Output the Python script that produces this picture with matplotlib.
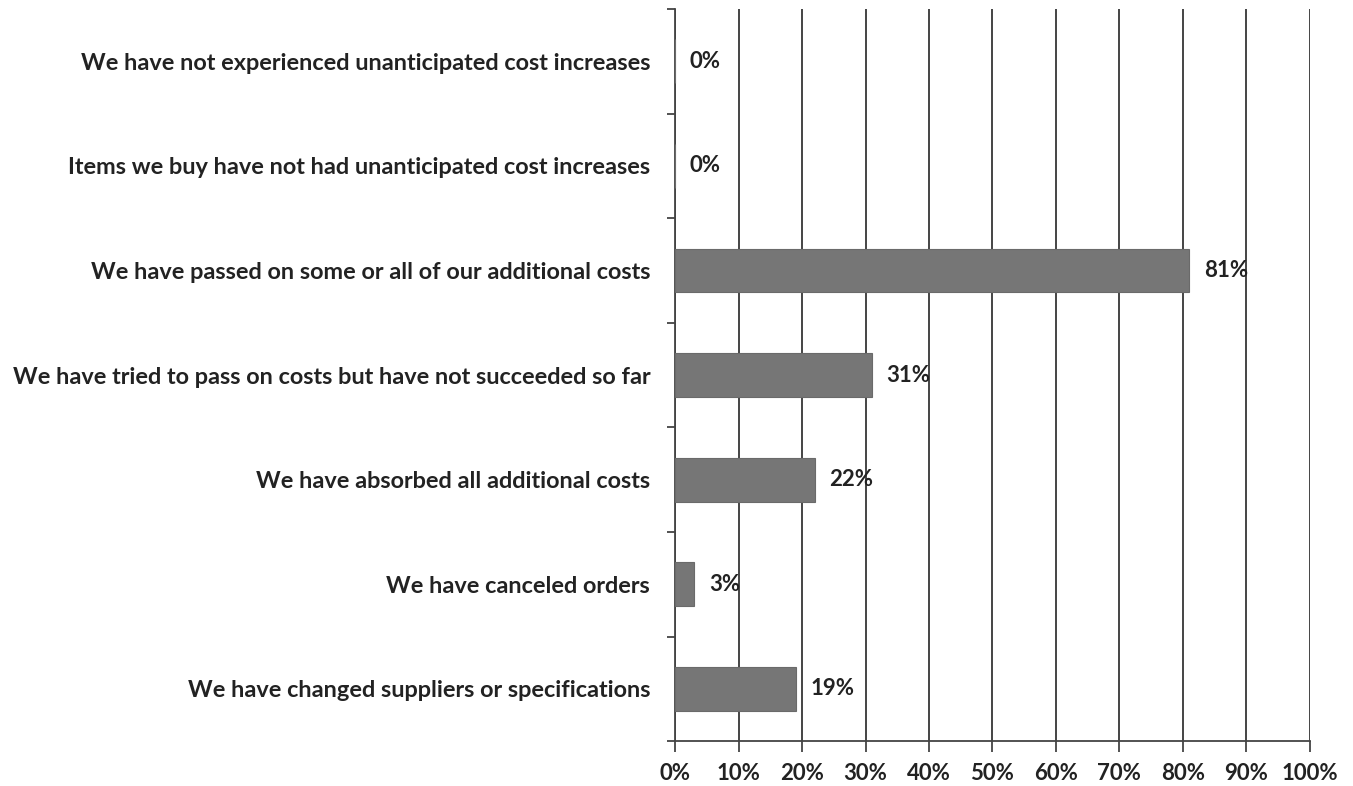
import numpy as np
import matplotlib.pyplot as plt

categories = [
    "We have not experienced unanticipated cost increases",
    "Items we buy have not had unanticipated cost increases",
    "We have passed on some or all of our additional costs",
    "We have tried to pass on costs but have not succeeded so far",
    "We have absorbed all additional costs",
    "We have canceled orders",
    "We have changed suppliers or specifications",
]
values = [0, 0, 81, 31, 22, 3, 19]
xticks = [0, 10, 20, 30, 40, 50, 60, 70, 80, 90, 100]

plt.rcParams['font.family'] = ['Lato', 'DejaVu Sans']
fs = 16

fig = plt.figure(figsize=(13.53, 7.86), dpi=100)
ax = fig.add_axes([0.499, 0.057, 0.469, 0.9315])

y = np.arange(len(categories))
ax.barh(y, values, height=0.42, color="#767676", edgecolor="#6a6a6a", linewidth=0.8, zorder=3)

for yi, v in zip(y, values):
    ax.text(v + 2.3, yi, f"{v}%", va="center", ha="left", fontsize=fs,
            fontweight="bold", color="#222222", zorder=4)

ax.set_ylim(len(categories) - 0.5, -0.5)
ax.set_xlim(0, 100)
ax.set_xticks(xticks)
ax.set_xticklabels([f"{t}%" for t in xticks], fontsize=fs, fontweight="bold", color="#222222")
ax.xaxis.grid(True, color="#444444", linewidth=1.4, zorder=0)

ax.set_yticks(y)
ax.set_yticklabels(categories, fontsize=16.9, fontweight="bold", color="#222222")
ax.tick_params(axis="y", length=0, pad=18)
ax.set_yticks(np.arange(len(categories) + 1) - 0.5, minor=True)
ax.tick_params(axis="y", which="minor", length=6, width=1.3, color="#444444")
ax.tick_params(axis="x", length=8, width=1.3, color="#444444", pad=8)

for s in ["top", "right"]:
    ax.spines[s].set_visible(False)
for s in ["left", "bottom"]:
    ax.spines[s].set_color("#444444")
    ax.spines[s].set_linewidth(1.3)

fig.savefig("out.png", dpi=100, facecolor="white")
